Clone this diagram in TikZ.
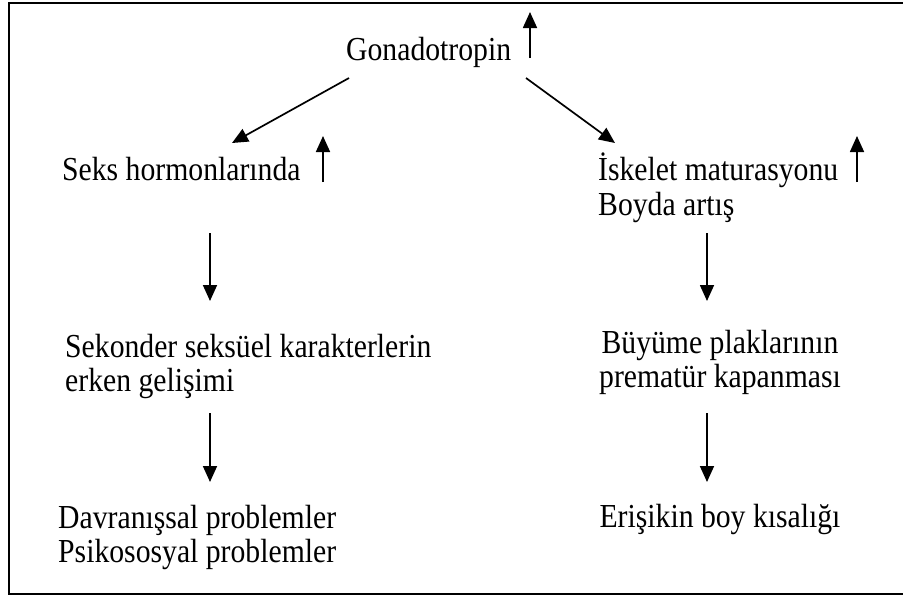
\documentclass[tikz,border=0pt]{standalone}
\usepackage{fontspec}
\usepackage{graphicx}
\setmainfont{Liberation Serif}
\usetikzlibrary{arrows.meta}
\newcommand{\tallt}[1]{\scalebox{1}[1.13]{#1}}
\begin{document}
\begin{tikzpicture}[x=1pt,y=-1pt,
  lbl/.style={inner sep=0pt, font=\fontsize{29.7}{34}\selectfont},
  lw/.style={lbl, anchor=base west},
  lc/.style={lbl, anchor=base},
  arr/.style={line width=1.7pt, -{Triangle[length=16pt,width=14pt]}}]
\useasboundingbox (0,0) rectangle (903,597);
\draw[line width=2pt] (8.5,3) rectangle (912,594);
% texts
\node[lw] (gon) at (346,60) {\tallt{Gonadotropin}};
\node[lw] (seks) at (62,180) {\tallt{Seks hormonlarında}};
\node[lw] (isk) at (598,180) {\tallt{İskelet maturasyonu}};
\node[lw] (boy) at (598,215) {\tallt{Boyda artış}};
\node[lw] (sek) at (65,357) {\tallt{Sekonder seksüel karakterlerin}};
\node[lw] (erk) at (65,391) {\tallt{erken gelişimi}};
\node[lc] (buy) at (720,353) {\tallt{Büyüme plaklarının}};
\node[lc] (pre) at (720,387) {\tallt{prematür kapanması}};
\node[lw] (dav) at (58,528) {\tallt{Davranışsal problemler}};
\node[lw] (psi) at (58,562) {\tallt{Psikososyal problemler}};
\node[lc] (eri) at (720,527) {\tallt{Erişikin boy kısalığı}};
% coordinates for arrows
\coordinate (g0) at (530,58);  \coordinate (g1) at (530,12);
\coordinate (s0) at (323,182); \coordinate (s1) at (323,136);
\coordinate (i0) at (857,182); \coordinate (i1) at (857,136);
\coordinate (dl0) at (349,78); \coordinate (dl1) at (232,143);
\coordinate (dr0) at (526,78); \coordinate (dr1) at (615,143);
\coordinate (la0) at (210,233); \coordinate (la1) at (210,301);
\coordinate (lb0) at (210,413); \coordinate (lb1) at (210,482);
\coordinate (ra0) at (707,233); \coordinate (ra1) at (707,301);
\coordinate (rb0) at (707,413); \coordinate (rb1) at (707,482);
\draw[arr] (g0) -- (g1);
\draw[arr] (s0) -- (s1);
\draw[arr] (i0) -- (i1);
\draw[arr] (dl0) -- (dl1);
\draw[arr] (dr0) -- (dr1);
\draw[arr] (la0) -- (la1);
\draw[arr] (lb0) -- (lb1);
\draw[arr] (ra0) -- (ra1);
\draw[arr] (rb0) -- (rb1);
\end{tikzpicture}
\end{document}
